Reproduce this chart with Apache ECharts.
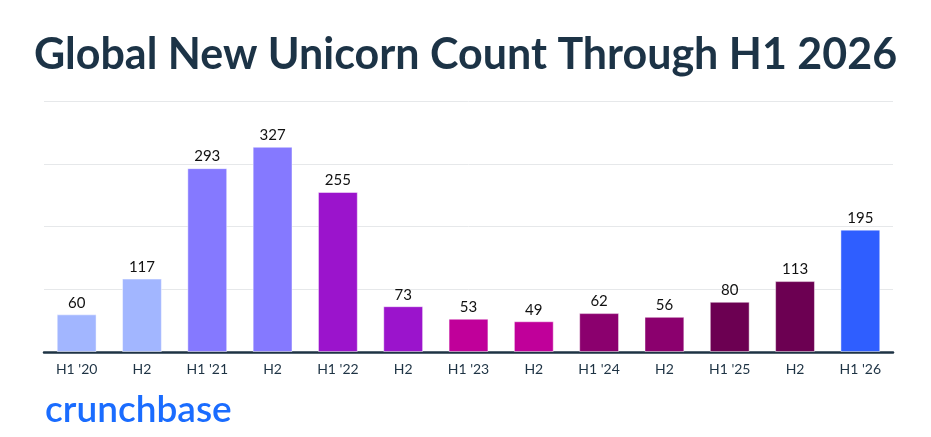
<!DOCTYPE html>
<html><head><meta charset="utf-8">
<script src="https://cdn.jsdelivr.net/npm/echarts@6/dist/echarts.min.js"></script>
<style>html,body{margin:0;padding:0;background:#fff}#c{width:931px;height:437px}</style>
</head><body><div id="c"></div>
<script>
const categories = ["H1 '20","H2","H1 '21","H2","H1 '22","H2","H1 '23","H2","H1 '24","H2","H1 '25","H2","H1 '26"];
const values = [60,117,293,327,255,73,53,49,62,56,80,113,195];
const barColors = ["#a2b6ff","#a2b6ff","#8579ff","#8579ff","#9b14cc","#9b14cc","#c0009a","#c0009a","#8b006e","#8b006e","#6c0052","#6c0052","#2f5eff"];
const yTicks = {min:0,max:400,interval:100};

const chart = echarts.init(document.getElementById('c'), null, {renderer:'canvas'});
chart.setOption({
  backgroundColor:'#fff',
  animation:false,
  title:{text:'Global New Unicorn Count Through H1 2026',left:'center',top:29,
    textStyle:{fontFamily:'Lato',fontWeight:'bold',fontSize:43,color:'#1c3346'}},
  graphic:[{type:'text',left:45,top:392,style:{text:'crunchbase',fontFamily:'Lato',fontWeight:600,fontSize:37,fill:'#1a6cff',letterSpacing:0.8}}],
  grid:{left:44,right:38,top:101,bottom:85,containLabel:false},
  xAxis:{type:'category',data:categories,
    axisLine:{lineStyle:{color:'#1e3344',width:2.5}},axisTick:{show:false},
    axisLabel:{color:'#1e3344',fontFamily:'Lato',fontSize:14,margin:10}},
  yAxis:{type:'value',min:yTicks.min,max:yTicks.max,interval:yTicks.interval,
    axisLabel:{show:false},axisLine:{show:false},axisTick:{show:false},
    splitLine:{lineStyle:{color:'#e6e8ea',width:1}}},
  series:[{type:'bar',barWidth:'61%',
    data:values.map((v,i)=>({value:v,itemStyle:{color:barColors[i]}})),
    itemStyle:{borderColor:'rgba(255,255,255,0.45)',borderWidth:1},
    label:{show:true,position:'top',distance:4,color:'#111',fontFamily:'Lato',fontSize:15}}]
});
</script></body></html>
